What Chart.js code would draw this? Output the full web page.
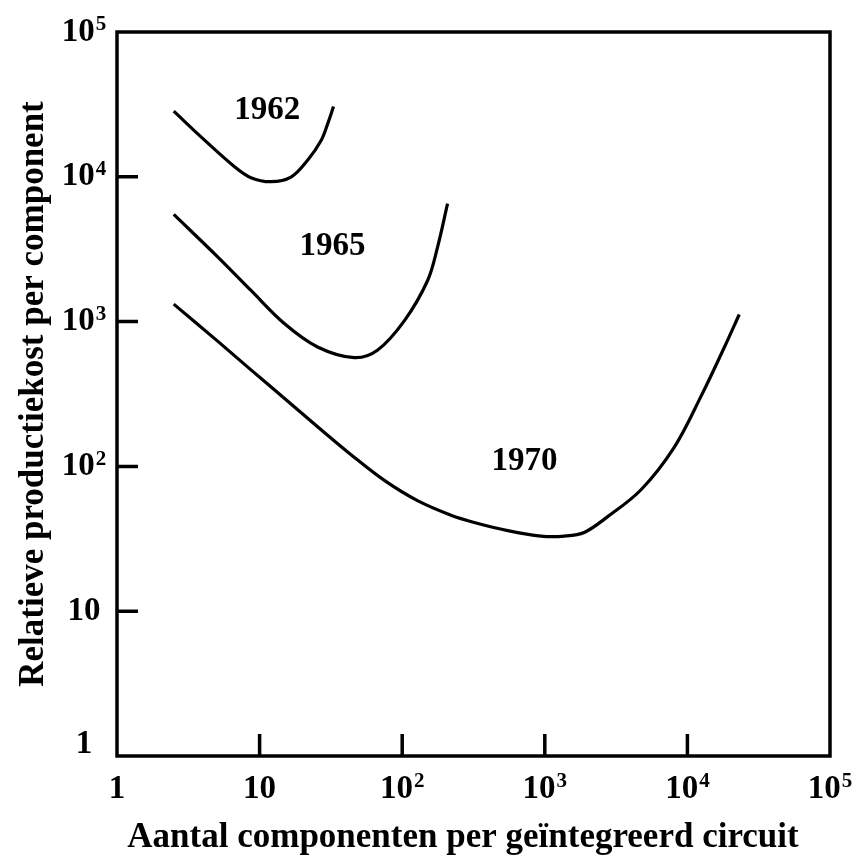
<!DOCTYPE html>
<html>
<head>
<meta charset="utf-8">
<script src="https://cdn.jsdelivr.net/npm/chart.js@4.4.1/dist/chart.umd.min.js"></script>
<style>
  html, body { margin: 0; padding: 0; background: #fff; }
  #wrap { width: 862px; height: 867px; }
</style>
</head>
<body>
<div id="wrap"><canvas id="myChart" width="862" height="867"></canvas></div>
<script>
// curves: components per IC (x) vs relative cost per component (y)
const years = ['1962', '1965', '1970'];
const comps1962 = [2.5, 3.9, 6.7, 8.7, 12, 16.6, 21.7, 27, 30, 33];
const cost1962 = [28400, 18800, 11700, 9860, 9250, 9950, 13000, 17800, 23200, 30600];
const comps1965 = [2.5, 5.1, 8.7, 14.9, 25.5, 46, 67, 104, 151, 177, 208];
const cost1965 = [5500, 2790, 1640, 970, 668, 564, 634, 1020, 1930, 3270, 6520];
const comps1970 = [2.5, 5.1, 8.7, 14.9, 25.5, 44, 75, 128, 220, 320, 550, 940, 1370, 1890, 2760, 4730, 8100, 12400, 18200, 23100];
const cost1970 = [1320, 730, 464, 296, 188, 120, 80, 58, 46, 41, 36, 33, 33, 35, 45, 69, 136, 302, 668, 1120];

// axis ticks
const tickValues = [1, 10, 100, 1000, 10000, 100000];
const tickBase = ['1', '10', '10', '10', '10', '10'];
const tickExp = ['', '', '2', '3', '4', '5'];

// where the year labels sit, in data units
const labelComps = [11.3, 32.5, 721];
const labelCost = [28700, 3280, 108];

const xTitle = 'Aantal componenten per geïntegreerd circuit';
const yTitle = 'Relatieve productiekost per component';

const FONT = "'Liberation Serif', 'Times New Roman', serif";

function pts(xs, ys) {
    return xs.map(function (x, i) { return {x: x, y: ys[i]}; });
}

const series = [pts(comps1962, cost1962), pts(comps1965, cost1965), pts(comps1970, cost1970)];

const framePlugin = {
    id: 'frame',
    afterDraw: function (chart) {
        const c = chart.ctx, a = chart.chartArea, sx = chart.scales.x, sy = chart.scales.y;
        c.save();
        c.strokeStyle = '#000';
        c.fillStyle = '#000';

        // box
        c.lineWidth = 3.5;
        c.strokeRect(a.left, a.top, a.right - a.left, a.bottom - a.top);

        // inward tick marks
        c.beginPath();
        for (let i = 1; i < tickValues.length - 1; i++) {
            const px = sx.getPixelForValue(tickValues[i]);
            c.moveTo(px, a.bottom);
            c.lineTo(px, a.bottom - 22);
            const py = sy.getPixelForValue(tickValues[i]);
            c.moveTo(a.left, py);
            c.lineTo(a.left + 21, py);
        }
        c.stroke();

        // tick labels
        c.textBaseline = 'middle';
        c.textAlign = 'left';
        for (let i = 0; i < tickValues.length; i++) {
            c.font = 'bold 33px ' + FONT;
            const wb = c.measureText(tickBase[i]).width;
            c.font = 'bold 21px ' + FONT;
            const we = tickExp[i] ? c.measureText(tickExp[i]).width + 1 : 0;
            const w = wb + we;

            // x axis
            let cx = sx.getPixelForValue(tickValues[i]);
            let x0 = cx - w / 2, y0 = a.bottom + 33;
            c.font = 'bold 33px ' + FONT;
            c.fillText(tickBase[i], x0, y0);
            if (tickExp[i]) {
                c.font = 'bold 21px ' + FONT;
                c.fillText(tickExp[i], x0 + wb + 1, y0 - 7);
            }

            // y axis
            let cy = sy.getPixelForValue(tickValues[i]);
            if (i === 0) cy -= 12;
            x0 = 84 - w / 2;
            c.font = 'bold 33px ' + FONT;
            c.fillText(tickBase[i], x0, cy);
            if (tickExp[i]) {
                c.font = 'bold 21px ' + FONT;
                c.fillText(tickExp[i], x0 + wb + 1, cy - 7);
            }
        }

        // year labels
        c.textAlign = 'center';
        c.font = 'bold 33px ' + FONT;
        for (let i = 0; i < years.length; i++) {
            c.fillText(years[i], sx.getPixelForValue(labelComps[i]), sy.getPixelForValue(labelCost[i]));
        }

        // axis titles
        c.font = 'bold 35px ' + FONT;
        c.textBaseline = 'alphabetic';
        c.fillText(xTitle, 463, 847);
        c.translate(43, 394);
        c.rotate(-Math.PI / 2);
        c.fillText(yTitle, 0, 0);
        c.restore();
    }
};

const ctx = document.getElementById('myChart');
const myChart = new Chart(ctx, {
    type: 'line',
    data: {
        datasets: series.map(function (s, i) {
            return {
                label: years[i],
                data: s,
                borderColor: '#000',
                borderWidth: 3.2,
                pointRadius: 0,
                fill: false,
                tension: 0.35
            };
        })
    },
    options: {
        responsive: false,
        animation: false,
        layout: {padding: {left: 117, top: 32, right: 32, bottom: 111}},
        plugins: {legend: {display: false}, tooltip: {enabled: false}},
        scales: {
            x: {type: 'logarithmic', min: 1, max: 100000, display: false},
            y: {type: 'logarithmic', min: 1, max: 100000, display: false}
        }
    },
    plugins: [framePlugin]
});
</script>
</body>
</html>
